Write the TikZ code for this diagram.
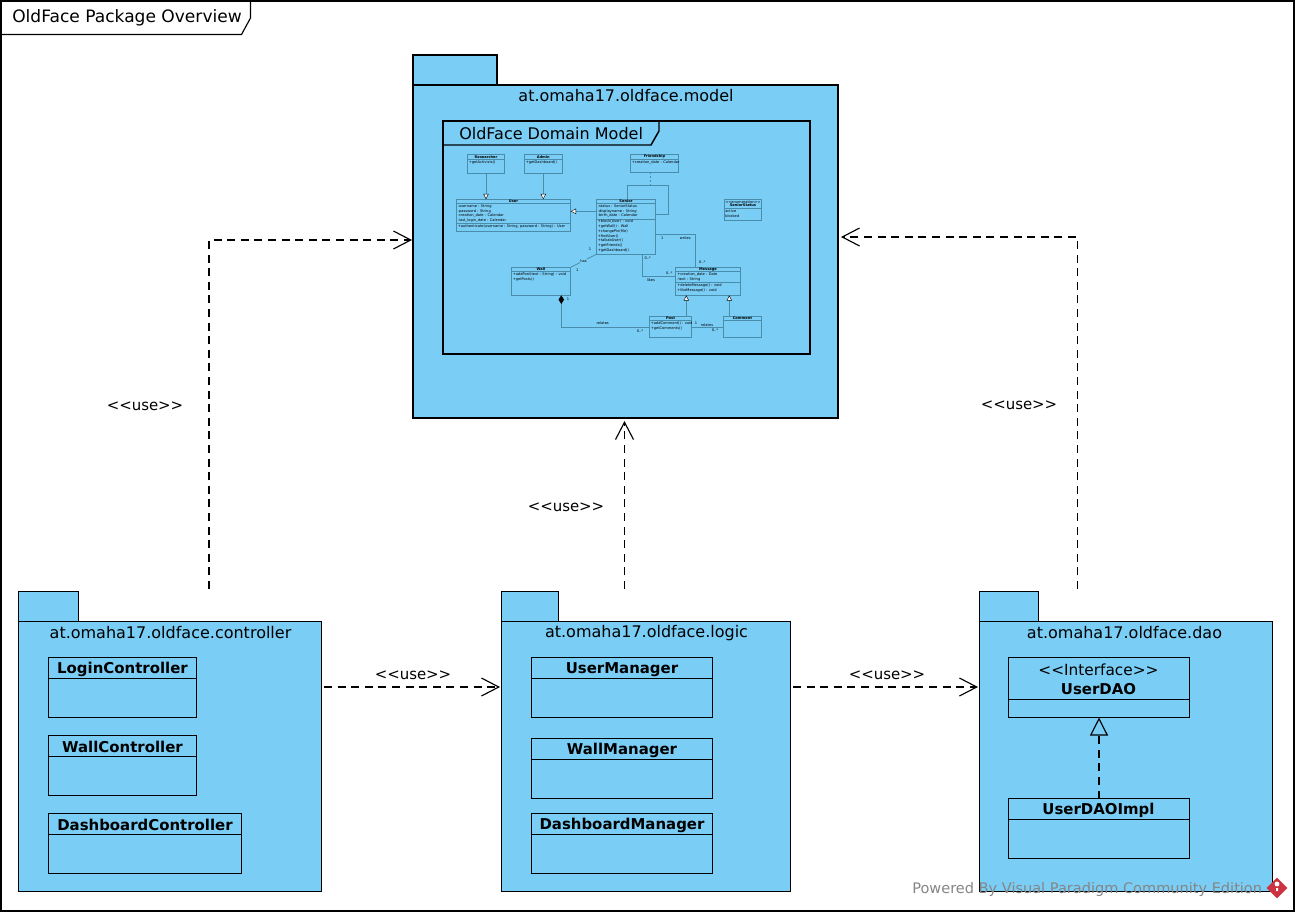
\documentclass[tikz,border=0pt]{standalone}
\usepackage{fontspec}
\setmainfont{DejaVu Sans}
\usetikzlibrary{arrows.meta, shapes.geometric}

\definecolor{pkgblue}{HTML}{7ACDF5}
\definecolor{minilinecol}{HTML}{4A8DAB}
\definecolor{markgray}{HTML}{858585}
\definecolor{markred}{HTML}{CC3340}

\tikzset{
  size/.style 2 args={minimum width=#1*0.75pt, minimum height=#2*0.75pt},
  pkgbox/.style={draw, fill=pkgblue, line width=0.85pt, anchor=north west, inner sep=0pt, outer sep=0pt},
  classbox/.style={draw, line width=0.85pt, anchor=north west, inner sep=0pt, outer sep=0pt},
  pkgname/.style={font=\fontsize{12}{14}\selectfont},
  classname/.style={font=\fontsize{11.2}{13}\selectfont\bfseries},
  uselabel/.style={font=\fontsize{11.2}{13}\selectfont},
  usedep/.style={line width=0.85pt, dash pattern=on 6pt off 4.2pt, -{Straight Barb[length=13pt, width=13.5pt, line width=0.85pt]}},
  miniclass/.style={draw=minilinecol, line width=0.6pt, anchor=north west, inner sep=0pt, outer sep=0pt},
  minilink/.style={draw=minilinecol, line width=0.6pt},
  minigen/.style={minilink, -{Triangle[open, fill=white, length=4pt, width=4pt, line width=0.3pt, color=black]}},
  minititle/.style={font=\fontsize{2.7}{3}\selectfont\bfseries, inner sep=0pt},
  minitext/.style={font=\fontsize{2.7}{3.55}\selectfont, align=left, anchor=north west, inner sep=0pt},
  minilabel/.style={font=\fontsize{2.7}{3}\selectfont, inner sep=0pt}
}

\begin{document}
\begin{tikzpicture}[x=0.75pt, y=-0.75pt]
    \useasboundingbox (0,0) rectangle (1295,914);

    % Outer frame and its title tab
    \draw[line width=0.85pt] (1,1) rectangle (1294,911);
    \draw[line width=0.85pt] (1,34.5) -- (241.5,34.5) -- (250.5,18) -- (250.5,1);
    \node[font=\fontsize{12.8}{15}\selectfont, anchor=west, inner sep=0pt] (mainTitle) at (12,18) {OldFace Package Overview};

    % Model package
    \node[pkgbox, size={84}{30}] (modelTab) at (413,55) {};
    \node[pkgbox, size={425}{333}] (model) at (413,85) {};
    \node[pkgname] (modelName) at (626,96) {at.omaha17.oldface.model};
    \draw[line width=1.1pt] (443,121) rectangle (810,354);
    \draw[line width=1.1pt] (443,145) -- (651,145) -- (659,131) -- (659,121);
    \node[pkgname, anchor=west, inner sep=0pt] (domainTitle) at (459,133.5) {OldFace Domain Model};

    % Domain model classes
    \node[miniclass, size={37.4}{19}] (researcher) at (467.3,154.3) {};
    \node[minititle] (researcherName) at (486,157) {Researcher};
    \draw[minilink] (467.3,159.5) -- (504.7,159.5);
    \node[minitext] (researcherOps) at (468.5,160.5) {+getActivists()};

    \node[miniclass, size={38}{19}] (admin) at (524.3,154.3) {};
    \node[minititle] (adminName) at (543.3,157) {Admin};
    \draw[minilink] (524.3,159.5) -- (562.3,159.5);
    \node[minitext] (adminOps) at (525.5,160.5) {+getDashboard()};

    \node[miniclass, size={48.4}{18}] (friendship) at (630.3,154.3) {};
    \node[minititle] (friendshipName) at (654.5,157) {Friendship};
    \draw[minilink] (630.3,159.5) -- (678.7,159.5);
    \node[minitext] (friendshipAttr) at (631.5,160.5) {+creation\_date : Calendar};

    \node[miniclass, size={114.4}{32}] (user) at (456.3,199.3) {};
    \node[minititle] (userName) at (513.5,201.6) {User};
    \draw[minilink] (456.3,203.7) -- (570.7,203.7);
    \node[minitext] (userAttr) at (457.5,204.3) {-username : String\\-password : String\\-creation\_date : Calendar\\-last\_login\_date : Calendar};
    \draw[minilink] (456.3,223.3) -- (570.7,223.3);
    \node[minitext] (userOps) at (457.5,224.5) {+authenticate(username : String, password : String) : User};

    \node[miniclass, size={59.4}{55}] (senior) at (596.3,199.3) {};
    \node[minititle] (seniorName) at (626,201.6) {Senior};
    \draw[minilink] (596.3,203.7) -- (655.7,203.7);
    \node[minitext] (seniorAttr) at (597.5,204.5) {-status : SeniorStatus\\-displayname : String\\-birth\_date : Calendar};
    \draw[minilink] (596.3,219) -- (655.7,219);
    \node[minitext] (seniorOps) at (597.5,219.8) {+block(User) : void\\+getWall() : Wall\\+changePin(file)\\+findUser()\\+talkabUser()\\+getFriends()\\+getDashboard()};

    \node[miniclass, size={37.4}{21.4}] (seniorStatus) at (724.3,199.3) {};
    \node[minilabel] (enumStereo) at (743,202) {<{}<enumeration>{}>};
    \node[minititle] (enumName) at (743,205.6) {SeniorStatus};
    \draw[minilink] (724.3,208.3) -- (761.7,208.3);
    \node[minitext] (enumVals) at (725,209.3) {active\\blocked};

    \node[miniclass, size={59.4}{28}] (wall) at (511.3,267.3) {};
    \node[minititle] (wallName) at (541,269.5) {Wall};
    \draw[minilink] (511.3,271.7) -- (570.7,271.7);
    \node[minitext] (wallOps) at (512.5,272.8) {+addPost(text : String) : void\\+getPosts()};

    \node[miniclass, size={64.6}{28}] (message) at (675.7,267.3) {};
    \node[minititle] (messageName) at (708,269.5) {Message};
    \draw[minilink] (675.7,271.7) -- (740.3,271.7);
    \node[minitext] (messageAttr) at (677,272.5) {+creation\_date : Date\\-text : String};
    \draw[minilink] (675.7,282.3) -- (740.3,282.3);
    \node[minitext] (messageOps) at (677,283.3) {+deleteMessage() : void\\+likeMessage() : void};

    \node[miniclass, size={42.4}{21.4}] (post) at (649.3,316.3) {};
    \node[minititle] (postName) at (670.5,318.5) {Post};
    \draw[minilink] (649.3,320.7) -- (691.7,320.7);
    \node[minitext] (postOps) at (650.5,321.8) {+addComment() : void\\+getComments()};

    \node[miniclass, size={38.4}{21.4}] (comment) at (723.3,316.3) {};
    \node[minititle] (commentName) at (742.5,318.5) {Comment};
    \draw[minilink] (723.3,320.7) -- (761.7,320.7);

    % Domain model connectors
    \draw[minigen] (researcher.south) -- (researcher.south |- user.north);
    \draw[minigen] (admin.south) -- (admin.south |- user.north);
    \draw[minigen] (senior.west |- 0,211.3) -- (user.east |- 0,211.3);
    \draw[minigen] (post.north -| 686.3,0) -- (message.south -| 686.3,0);
    \draw[minigen] (comment.north -| 729.3,0) -- (message.south -| 729.3,0);
    \draw[minilink] (senior.north -| 627.3,0) |- (668.7,185.3) |- (senior.east |- 0,214.3);
    \draw[minilink, dashed, dash pattern=on 1.5pt off 1.5pt] (friendship.south -| 650.3,0) -- (650.3,185.3);
    \draw[minilink] (senior.east |- 0,234.3) -| (message.north -| 695.7,0);
    \draw[minilink] (senior.south -| 642.5,0) |- (message.west |- 0,276.3);
    \draw[minilink] (senior.south west) -- node[minilabel, fill=pkgblue, inner sep=0.5pt, pos=0.5] (hasLabel) {has} (wall.north east);
    \draw[minilink, {Diamond[length=6.5pt, width=4.2pt, black]}-] (wall.south -| 561.3,0) |- (post.west |- 0,327.3);
    \draw[minilink] (post.east |- 0,327.3) -- (comment.west |- 0,327.3);

    % Domain model connector labels
    \node[minilabel] (writesOne) at (662.3,237.7) {1};
    \node[minilabel] (writesText) at (685.3,237.7) {writes};
    \node[minilabel] (writesMany) at (702.3,262.3) {0..*};
    \node[minilabel] (likesManyA) at (647.7,258.3) {0..*};
    \node[minilabel] (likesManyB) at (669.3,272.7) {0..*};
    \node[minilabel] (likesText) at (651,279.7) {likes};
    \node[minilabel] (hasOneA) at (590,249.5) {1};
    \node[minilabel] (hasOneB) at (577.3,269.7) {1};
    \node[minilabel] (wallOne) at (568,298.7) {1};
    \node[minilabel] (relatesA) at (602.7,323.3) {relates};
    \node[minilabel] (relatesMany) at (640,331.3) {0..*};
    \node[minilabel] (postOne) at (696,323.3) {1};
    \node[minilabel] (relatesB) at (707,324.7) {relates};
    \node[minilabel] (commentMany) at (715,330) {0..*};

    % Controller package
    \node[pkgbox, size={60}{30}] (controllerTab) at (18.5,591.5) {};
    \node[pkgbox, size={303}{270}] (controller) at (18.5,621.5) {};
    \node[pkgname] (controllerName) at (170.5,633) {at.omaha17.oldface.controller};
    \node[classbox, size={148}{60}] (loginCtrl) at (48.5,657.5) {};
    \draw[line width=0.85pt] (48.5,678.5) -- (196.5,678.5);
    \node[classname] (loginCtrlName) at (122.5,669.3) {LoginController};
    \node[classbox, size={148}{60}] (wallCtrl) at (48.5,735.5) {};
    \draw[line width=0.85pt] (48.5,756.5) -- (196.5,756.5);
    \node[classname] (wallCtrlName) at (122.5,747.3) {WallController};
    \node[classbox, size={193}{60}] (dashCtrl) at (48.5,813.5) {};
    \draw[line width=0.85pt] (48.5,834.5) -- (241.5,834.5);
    \node[classname] (dashCtrlName) at (145,825.3) {DashboardController};

    % Logic package
    \node[pkgbox, size={57}{30}] (logicTab) at (501.5,591.5) {};
    \node[pkgbox, size={289}{270}] (logic) at (501.5,621.5) {};
    \node[pkgname] (logicName) at (646.5,633) {at.omaha17.oldface.logic};
    \node[classbox, size={181}{60}] (userMgr) at (531.5,657.5) {};
    \draw[line width=0.85pt] (531.5,678.5) -- (712.5,678.5);
    \node[classname] (userMgrName) at (622,669.3) {UserManager};
    \node[classbox, size={181}{60}] (wallMgr) at (531.5,738.5) {};
    \draw[line width=0.85pt] (531.5,759.5) -- (712.5,759.5);
    \node[classname] (wallMgrName) at (622,750.3) {WallManager};
    \node[classbox, size={181}{60}] (dashMgr) at (531.5,813.5) {};
    \draw[line width=0.85pt] (531.5,834.5) -- (712.5,834.5);
    \node[classname] (dashMgrName) at (622,825.3) {DashboardManager};

    % DAO package
    \node[pkgbox, size={59}{30}] (daoTab) at (979.5,591.5) {};
    \node[pkgbox, size={293}{270}] (dao) at (979.5,621.5) {};
    \node[pkgname] (daoName) at (1124.5,633) {at.omaha17.oldface.dao};
    \node[classbox, size={181}{60}] (userDao) at (1008.5,657.5) {};
    \draw[line width=0.85pt] (1008.5,699.5) -- (1189.5,699.5);
    \node[font=\fontsize{11.5}{13}\selectfont] (userDaoStereo) at (1098.5,669.5) {<{}<Interface>{}>};
    \node[classname] (userDaoName) at (1098.5,689.5) {UserDAO};
    \node[classbox, size={181}{60}] (userDaoImpl) at (1008.5,798.5) {};
    \draw[line width=0.85pt] (1008.5,819.5) -- (1189.5,819.5);
    \node[classname] (userDaoImplName) at (1098.5,810.3) {UserDAOImpl};

    % Realization inside the DAO package
    \draw[line width=0.85pt, dash pattern=on 6pt off 4.2pt, -{Triangle[open, length=13.5pt, width=13.5pt, line width=0.85pt]}] (userDaoImpl.north) -- (userDao.south);

    % Ends of the use arrows
    \coordinate (controllerUp) at (209,589);
    \coordinate (modelLeft) at (412,240);
    \coordinate (logicUp) at (624.5,589);
    \coordinate (modelBelow) at (624.5,421);
    \coordinate (daoUp) at (1077.5,589);
    \coordinate (modelRight) at (841,237);
    \coordinate (controllerRight) at (324,687);
    \coordinate (logicLeft) at (500,687);
    \coordinate (logicRight) at (793,687);
    \coordinate (daoLeft) at (978,687);

    % Use arrows
    \draw[usedep] (controllerUp) |- (modelLeft);
    \draw[usedep] (logicUp) -- (modelBelow);
    \draw[usedep] (daoUp) |- (modelRight);
    \draw[usedep] (controllerRight) -- (logicLeft);
    \draw[usedep] (logicRight) -- (daoLeft);

    % Use labels
    \node[uselabel] (useLeft) at (145,406.5) {<{}<use>{}>};
    \node[uselabel] (useMiddle) at (566,507.5) {<{}<use>{}>};
    \node[uselabel] (useRight) at (1019,405.5) {<{}<use>{}>};
    \node[uselabel] (useBottomA) at (413,675.5) {<{}<use>{}>};
    \node[uselabel] (useBottomB) at (887,675.5) {<{}<use>{}>};

    % Watermark
    \node[font=\fontsize{10.9}{13}\selectfont, text=markgray, anchor=west, inner sep=0pt] (watermark) at (912,889.5) {Powered By Visual Paradigm Community Edition};
    \node[fill=markred, shape=diamond, size={21}{21}, inner sep=0pt] (markLogo) at (1277,888) {};
    \fill[white] (1277,884) circle (2.4) (1276,888) rectangle (1278,891);
\end{tikzpicture}
\end{document}
